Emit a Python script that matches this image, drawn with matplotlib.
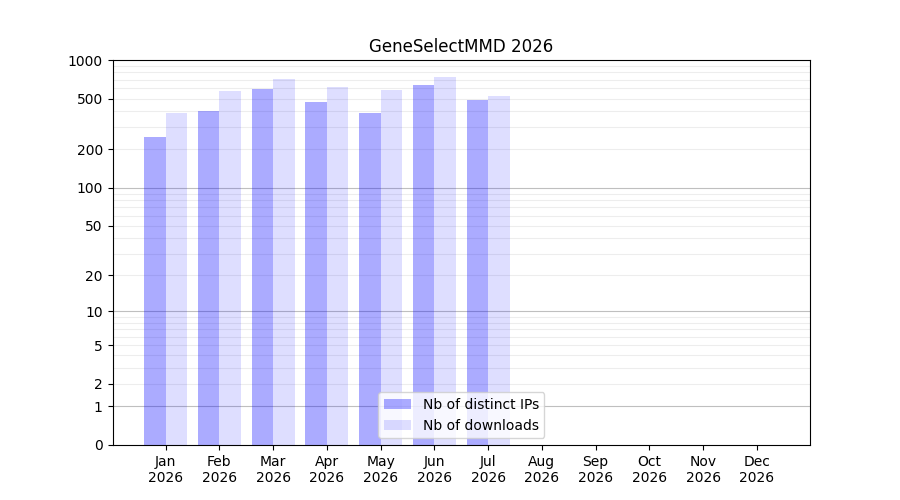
import numpy as np
import matplotlib
matplotlib.use("Agg")
import matplotlib.pyplot as plt
from matplotlib.ticker import FixedLocator, FixedFormatter


months = ["Jan", "Feb", "Mar", "Apr", "May", "Jun", "Jul", "Aug", "Sep", "Oct", "Nov", "Dec"]
year = "2026"
ips = [249, 399, 593, 469, 385, 637, 486, 0, 0, 0, 0, 0]
downloads = [385, 572, 710, 615, 582, 736, 522, 0, 0, 0, 0, 0]
yticks = [0, 1, 2, 5, 10, 20, 50, 100, 200, 500, 1000]


def fwd(v):
    return np.log10(1 + np.clip(v, 0, None))


def inv(v):
    return 10 ** v - 1


fig, ax = plt.subplots(figsize=(9, 5), dpi=100)
x = np.arange(len(months))
w = 0.4
ax.bar(x - w / 2, ips, w, color="blue", alpha=0.33, label="Nb of distinct IPs")
ax.bar(x + w / 2, downloads, w, color="blue", alpha=0.13, label="Nb of downloads")

ax.set_yscale("function", functions=(fwd, inv))
ax.set_ylim(0, 1000)
ax.yaxis.set_major_locator(FixedLocator(yticks))
ax.yaxis.set_major_formatter(FixedFormatter([str(t) for t in yticks]))
minor = [m * d for d in (1, 10, 100) for m in range(2, 10)]
ax.yaxis.set_minor_locator(FixedLocator(minor))
ax.tick_params(axis="y", which="minor", length=0)
ax.set_axisbelow(True)
for v in [1, 10, 100]:
    ax.axhline(v, color="0.75", linewidth=0.8, zorder=0)
for v in minor:
    ax.axhline(v, color="0.93", linewidth=0.8, zorder=0)

ax.set_xticks(x)
ax.set_xticklabels([m + "\n" + year for m in months])
ax.set_title("GeneSelectMMD 2026")
ax.legend(loc="lower center")

fig.savefig("out.png")
